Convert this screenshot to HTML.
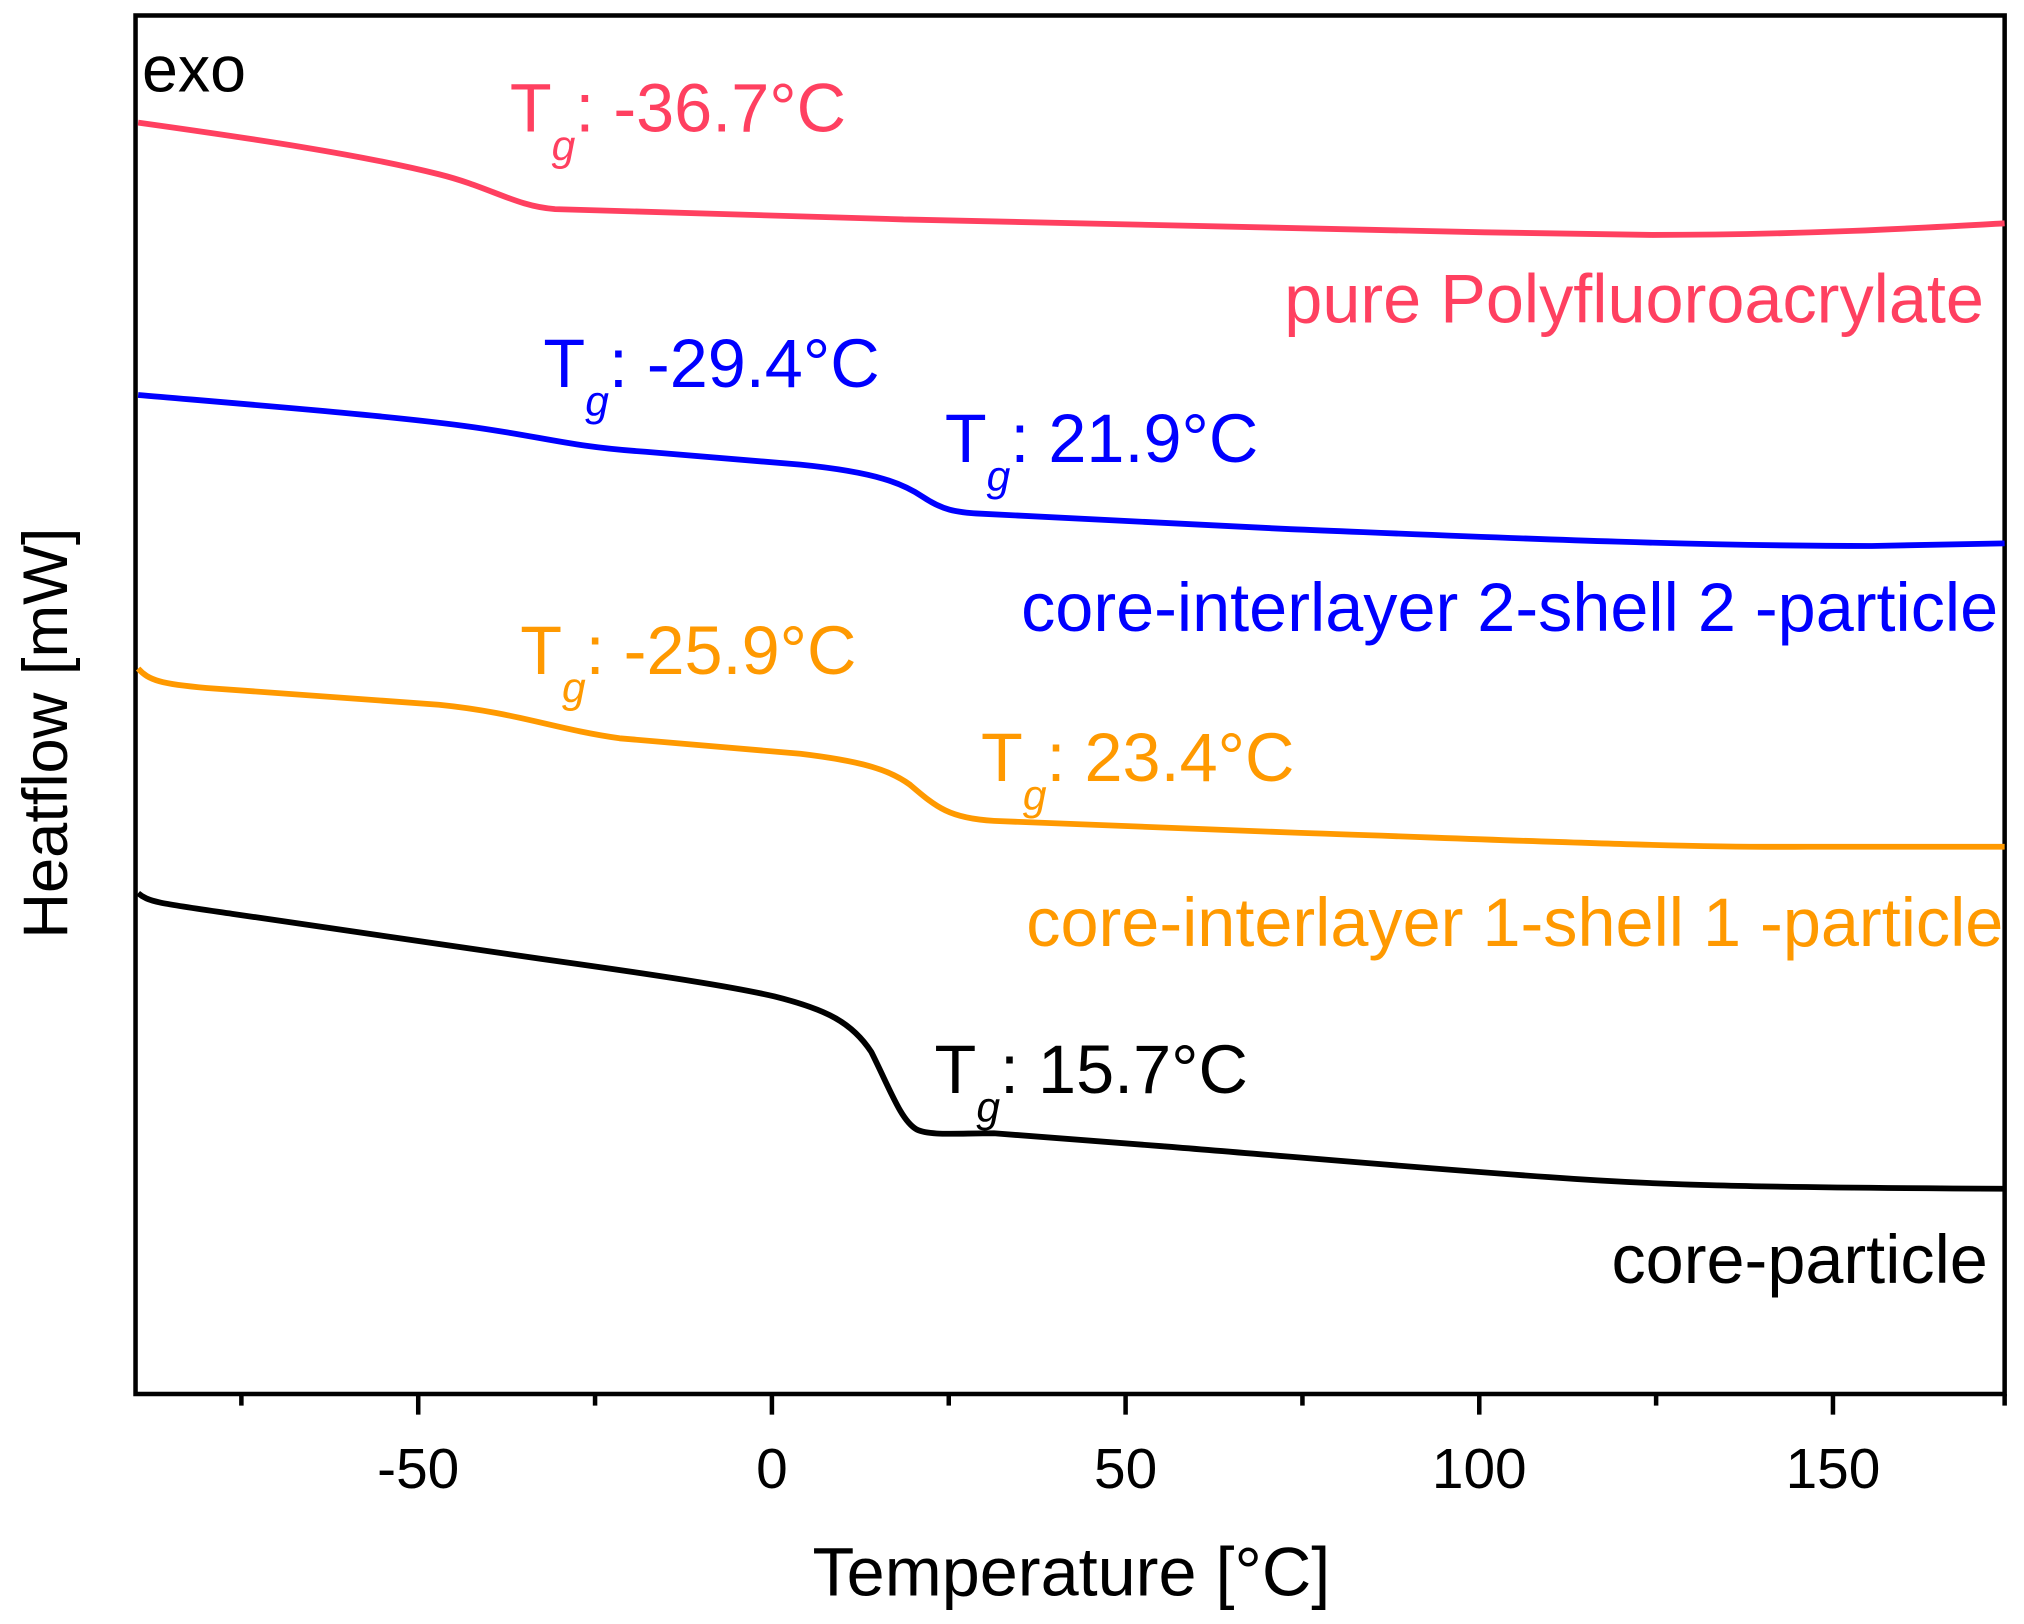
<!DOCTYPE html>
<html><head><style>html,body{margin:0;padding:0;background:#fff}svg{display:block}</style></head>
<body>
<svg width="2024" height="1624" viewBox="0 0 1568 1258.2" preserveAspectRatio="none" xmlns="http://www.w3.org/2000/svg" font-family="Liberation Sans, Arial, sans-serif">
<rect x="0" y="0" width="1568" height="1258.2" fill="#fff"/>
<rect x="105" y="12" width="1448" height="1068" fill="none" stroke="#000" stroke-width="3.5"/>
<g stroke="#000" stroke-width="3.5">
<line x1="324" y1="1080" x2="324" y2="1096"/><line x1="598" y1="1080" x2="598" y2="1096"/><line x1="872" y1="1080" x2="872" y2="1096"/><line x1="1146" y1="1080" x2="1146" y2="1096"/><line x1="1420" y1="1080" x2="1420" y2="1096"/>
<line x1="187" y1="1080" x2="187" y2="1089"/><line x1="461" y1="1080" x2="461" y2="1089"/><line x1="735" y1="1080" x2="735" y2="1089"/><line x1="1009" y1="1080" x2="1009" y2="1089"/><line x1="1283" y1="1080" x2="1283" y2="1089"/><line x1="1553" y1="1080" x2="1553" y2="1089"/>
</g>
<g font-size="44" text-anchor="middle" fill="#000">
<text x="324" y="1153">-50</text><text x="598" y="1153">0</text><text x="872" y="1153">50</text><text x="1146" y="1153">100</text><text x="1420" y="1153">150</text>
</g>
<text x="830" y="1236" font-size="53" text-anchor="middle">Temperature [°C]</text>
<text transform="translate(52,568) rotate(-90)" font-size="49" text-anchor="middle">Heatflow [mW]</text>
<text x="110" y="71" font-size="50">exo</text>
<g fill="none" stroke-width="4.5" stroke-linejoin="round">
<path stroke="#ff4060" d="M107,95 C200,108 280,120 340,135 C380,145 400,160 430,162 L700,170 C850,174 1000,178 1150,180 L1280,182 C1400,182 1500,176 1553,173"/>
<path stroke="#0000ff" d="M107,306 C200,314 300,322 360,330 C420,338 440,346 500,350 L620,360 C680,366 700,375 715,385 C730,395 740,397 760,398 L1000,410 C1150,416 1300,423 1450,423 L1553,421"/>
<path stroke="#ff9900" d="M107,518 C115,527 125,530 160,533 L340,546 C400,552 430,565 480,572 L620,584 C670,590 690,597 705,608 C725,625 735,634 770,636 L1000,645 C1150,650 1300,657 1400,656 L1553,656"/>
<path stroke="#000" d="M107,692 C115,699 125,700 180,708 L420,743 C520,757 570,765 600,772 C640,782 660,792 675,815 C690,845 698,868 710,875 C720,880 740,878 770,878 L900,888 C1000,896 1100,905 1200,912 C1280,918 1350,920 1553,921"/>
</g>
<g font-size="53">
<text x="395" y="102" fill="#ff4060">T<tspan font-size="33" font-style="italic" dy="22">g</tspan><tspan dy="-22">: -36.7°C</tspan></text>
<text x="1537" y="250" fill="#ff4060" text-anchor="end">pure Polyfluoroacrylate</text>
<text x="421" y="300" fill="#0000ff">T<tspan font-size="33" font-style="italic" dy="22">g</tspan><tspan dy="-22">: -29.4°C</tspan></text>
<text x="732" y="358" fill="#0000ff">T<tspan font-size="33" font-style="italic" dy="22">g</tspan><tspan dy="-22">: 21.9°C</tspan></text>
<text x="1548" y="489" fill="#0000ff" text-anchor="end">core-interlayer 2-shell 2 -particle</text>
<text x="403" y="522" fill="#ff9900">T<tspan font-size="33" font-style="italic" dy="22">g</tspan><tspan dy="-22">: -25.9°C</tspan></text>
<text x="760" y="605" fill="#ff9900">T<tspan font-size="33" font-style="italic" dy="22">g</tspan><tspan dy="-22">: 23.4°C</tspan></text>
<text x="1552" y="733" fill="#ff9900" text-anchor="end">core-interlayer 1-shell 1 -particle</text>
<text x="724" y="847" fill="#000">T<tspan font-size="33" font-style="italic" dy="22">g</tspan><tspan dy="-22">: 15.7°C</tspan></text>
<text x="1540" y="994" fill="#000" text-anchor="end">core-particle</text>
</g>
</svg>
</body></html>
